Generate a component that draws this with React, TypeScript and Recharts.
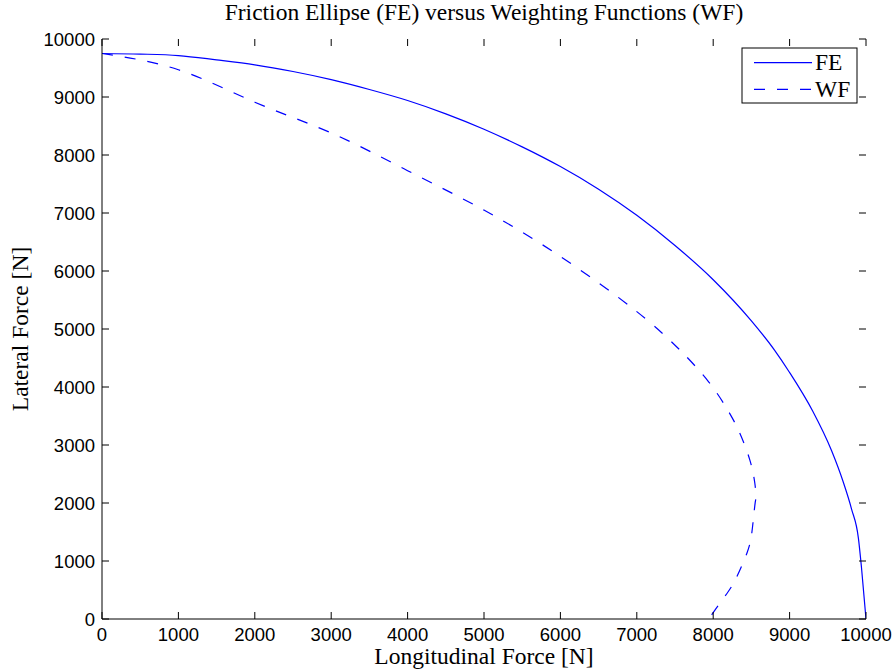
import { LineChart, Line, XAxis, YAxis, ReferenceLine } from 'recharts'

// friction ellipse (FE)
const feX = [0, 500, 1000, 1500, 2000, 2500, 3000, 3500, 4000, 4500, 5000, 5500, 6000, 6500, 7000, 7500, 8000, 8500, 8800, 9000, 9300, 9550, 9700, 9810, 9900, 9940, 10000]
const feY = [9750, 9740, 9715, 9640, 9555, 9440, 9300, 9130, 8940, 8710, 8445, 8140, 7800, 7410, 6960, 6440, 5850, 5140, 4640, 4250, 3590, 2900, 2370, 1900, 1400, 900, 0]

// weighting functions (WF)
const wfX = [0, 1000, 2000, 3000, 4000, 5000, 6000, 7000, 7500, 7630, 7940, 8200, 8350, 8480, 8545, 8560, 8545, 8505, 8440, 8310, 8180, 7980, 7970]
const wfY = [9750, 9470, 8910, 8380, 7730, 7050, 6250, 5300, 4720, 4550, 4090, 3580, 3200, 2740, 2340, 2100, 1960, 1480, 1130, 730, 440, 70, 0]

const xTicks = [0, 1000, 2000, 3000, 4000, 5000, 6000, 7000, 8000, 9000, 10000]
const yTicks = [0, 1000, 2000, 3000, 4000, 5000, 6000, 7000, 8000, 9000, 10000]

const feData = feX.map((x, i) => ({ x, y: feY[i] }))
const wfData = wfX.map((x, i) => ({ x, y: wfY[i] }))

const serif = '"Liberation Serif", "DejaVu Serif", serif'
const sans = '"Liberation Sans", Arial, sans-serif'
const TICK_LEN = 7

const BottomLabel = (p: any) => (
  <text x={p.x} y={p.y} dy={13} textAnchor="middle" fontFamily={sans} fontSize={18.5} fill="#000">
    {p.payload.value}
  </text>
)
const LeftLabel = (p: any) => (
  <text x={p.x} y={p.y} dy={6.6} textAnchor="end" fontFamily={sans} fontSize={18.5} fill="#000">
    {p.payload.value}
  </text>
)

// matlab style: short tick marks pointing into the box, on both sides
const XMarks = (p: any) => {
  const lo = Math.min(p.y1, p.y2)
  const hi = Math.max(p.y1, p.y2)
  return (
    <g>
      <line x1={p.x1} x2={p.x1} y1={hi} y2={hi - TICK_LEN} stroke="#000" strokeWidth={1} />
      <line x1={p.x1} x2={p.x1} y1={lo} y2={lo + TICK_LEN} stroke="#000" strokeWidth={1} />
    </g>
  )
}
const YMarks = (p: any) => {
  const lo = Math.min(p.x1, p.x2)
  const hi = Math.max(p.x1, p.x2)
  return (
    <g>
      <line x1={lo} x2={lo + TICK_LEN} y1={p.y1} y2={p.y1} stroke="#000" strokeWidth={1} />
      <line x1={hi} x2={hi - TICK_LEN} y1={p.y1} y2={p.y1} stroke="#000" strokeWidth={1} />
    </g>
  )
}

export default function App() {
  return (
    <div style={{ position: 'absolute', left: 0, top: 0, width: 895, height: 671, background: '#fff' }}>
      <LineChart width={895} height={671} margin={{ top: 39, right: 29, bottom: 0, left: 0 }}>
        <XAxis
          dataKey="x"
          type="number"
          domain={[0, 10000]}
          ticks={xTicks}
          allowDataOverflow
          height={52}
          stroke="#000"
          tickLine={false}
          tickSize={0}
          tickMargin={9}
          tick={BottomLabel}
          interval={0}
        />
        <XAxis
          xAxisId="top"
          orientation="top"
          type="number"
          domain={[0, 10000]}
          allowDataOverflow
          height={0}
          stroke="#000"
          tickLine={false}
          tick={false}
        />
        <YAxis
          type="number"
          domain={[0, 10000]}
          ticks={yTicks}
          allowDataOverflow
          width={102}
          stroke="#000"
          tickLine={false}
          tickSize={0}
          tickMargin={7}
          tick={LeftLabel}
          interval={0}
        />
        <YAxis
          yAxisId="right"
          orientation="right"
          type="number"
          domain={[0, 10000]}
          allowDataOverflow
          width={0}
          stroke="#000"
          tickLine={false}
          tick={false}
        />
        {xTicks.map((v) => (
          <ReferenceLine key={'x' + v} x={v} shape={XMarks} zIndex={2000} />
        ))}
        {yTicks.map((v) => (
          <ReferenceLine key={'y' + v} y={v} shape={YMarks} zIndex={2000} />
        ))}
        <Line
          data={feData}
          dataKey="y"
          type="monotone"
          stroke="#0000ff"
          strokeWidth={1.2}
          dot={false}
          isAnimationActive={false}
        />
        <Line
          data={wfData}
          dataKey="y"
          type="natural"
          stroke="#0000ff"
          strokeWidth={1.2}
          strokeDasharray="11 12"
          dot={false}
          isAnimationActive={false}
        />
      </LineChart>
      <svg width={895} height={671} style={{ position: 'absolute', left: 0, top: 0, pointerEvents: 'none' }}>
        <text x={484} y={19.5} textAnchor="middle" fontFamily={serif} fontSize={23.5}>
          Friction Ellipse (FE) versus Weighting Functions (WF)
        </text>
        <text x={484} y={664} textAnchor="middle" fontFamily={serif} fontSize={23.5}>
          Longitudinal Force [N]
        </text>
        <text x={28} y={329} textAnchor="middle" fontFamily={serif} fontSize={23.5} transform="rotate(-90 28 329)">
          Lateral Force [N]
        </text>
        <rect x={742} y={48} width={115} height={55} fill="#fff" stroke="#000" strokeWidth={1} />
        <line x1={754} y1={62.7} x2={812} y2={62.7} stroke="#0000ff" strokeWidth={1.2} />
        <line x1={754} y1={89.3} x2={812} y2={89.3} stroke="#0000ff" strokeWidth={1.2} strokeDasharray="11 12" />
        <text x={815} y={70} fontFamily={serif} fontSize={23.5}>FE</text>
        <text x={815} y={97} fontFamily={serif} fontSize={23.5}>WF</text>
      </svg>
    </div>
  )
}
